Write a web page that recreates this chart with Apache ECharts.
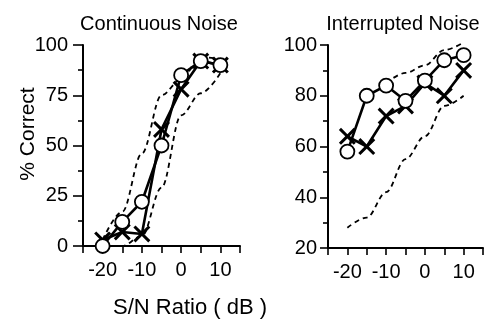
<!DOCTYPE html>
<html>
<head>
<meta charset="utf-8">
<script src="https://cdn.jsdelivr.net/npm/echarts@6/dist/echarts.min.js"></script>
<style>
  html, body { margin: 0; padding: 0; background: #fff; }
  #chart { width: 500px; height: 333px; }
</style>
</head>
<body>
<div id="chart"></div>
<script>
// Signal-to-noise ratios (dB) at which scores were measured
const snr = [-20, -15, -10, -5, 0, 5, 10];

// Continuous noise: percent correct
const contCircles = [0, 12, 22, 50, 85, 92, 90];
const contCrosses = [3, 7, 6, 58, 78, 92, 90];
const contUpper = [3, 17, 46, 75, 83, 94, 93];
const contLower = [0, 0, 5, 29, 65, 76, 86];

// Interrupted noise: percent correct
const intCircles = [58, 80, 84, 78, 86, 94, 96];
const intCrosses = [64, 60, 72, 76, 85, 80, 90];
const intUpperSnr = [-10, -5, 0, 5, 10];
const intUpper = [85, 89, 92, 98, 101];
const intLower = [28, 32, 42, 55, 64, 76, 80];

// Axis tick labels
const xTickLabels = ['-20', '-10', '0', '10'];
const contYTicks = [0, 25, 50, 75, 100];
const intYTicks = [20, 40, 60, 80, 100];

const FONT = 'Liberation Sans, Arial, sans-serif';
const pairs = (xs, ys) => xs.map((x, i) => [x, ys[i]]);

const crossPath = 'path://M2,0L8,6L14,0L16,2L10,8L16,14L14,16L8,10L2,16L0,14L6,8L0,2Z';

function xAxisFor(gridIndex) {
  return {
    type: 'value', gridIndex, min: -25, max: 15, interval: 5,
    axisLine: { show: true, onZero: false, lineStyle: { color: '#000', width: 2 } },
    axisTick: { show: true, length: 7, lineStyle: { color: '#000', width: 1.6 } },
    splitLine: { show: false },
    axisLabel: {
      color: '#000', fontFamily: FONT, fontSize: 20, margin: 14,
      formatter: v => xTickLabels.includes(String(v)) ? String(v) : ''
    }
  };
}

function yAxisFor(gridIndex, ticks, tickLen, labelMargin) {
  return {
    type: 'value', gridIndex,
    min: ticks[0], max: ticks[ticks.length - 1], interval: ticks[1] - ticks[0],
    axisLine: { show: true, onZero: false, lineStyle: { color: '#000', width: 2 } },
    axisTick: { show: true, length: tickLen, lineStyle: { color: '#000', width: 1.6 } },
    minorTick: { show: true, splitNumber: 2, length: 5, lineStyle: { color: '#000', width: 1.6 } },
    splitLine: { show: false },
    minorSplitLine: { show: false },
    axisLabel: { color: '#000', fontFamily: FONT, fontSize: 20, margin: labelMargin }
  };
}

function dashed(idx, data) {
  return {
    type: 'line', xAxisIndex: idx, yAxisIndex: idx, data,
    symbol: 'none', smooth: 0.35, smoothMonotone: 'x', clip: false,
    lineStyle: { color: '#000', width: 1.8, type: [5, 4] }, z: 1
  };
}

function crosses(idx, data) {
  return {
    type: 'line', xAxisIndex: idx, yAxisIndex: idx, data,
    symbol: crossPath, symbolSize: 17, showAllSymbol: true, clip: false,
    lineStyle: { color: '#000', width: 2.6 },
    itemStyle: { color: '#000', borderWidth: 0 }, z: 2
  };
}

function circles(idx, data) {
  return {
    type: 'line', xAxisIndex: idx, yAxisIndex: idx, data,
    symbol: 'circle', symbolSize: 14, showAllSymbol: true, clip: false,
    lineStyle: { color: '#000', width: 2.6 },
    itemStyle: { color: '#fff', borderColor: '#000', borderWidth: 1.8 }, z: 3
  };
}

const chart = echarts.init(document.getElementById('chart'), null, { renderer: 'canvas' });
chart.setOption({
  animation: false,
  backgroundColor: '#fff',
  grid: [
    { left: 83, top: 45, width: 157, height: 201 },
    { left: 328, top: 45, width: 155, height: 203 }
  ],
  xAxis: [xAxisFor(0), xAxisFor(1)],
  yAxis: [yAxisFor(0, contYTicks, 10, 15), yAxisFor(1, intYTicks, 8, 11)],
  series: [
    dashed(0, pairs(snr, contUpper)),
    dashed(0, pairs(snr, contLower)),
    crosses(0, pairs(snr, contCrosses)),
    circles(0, pairs(snr, contCircles)),
    dashed(1, pairs(intUpperSnr, intUpper)),
    dashed(1, pairs(snr, intLower)),
    crosses(1, pairs(snr, intCrosses)),
    circles(1, pairs(snr, intCircles))
  ],
  graphic: [
    { type: 'text', x: 159, y: 24, style: { text: 'Continuous Noise', font: '20px ' + FONT, fill: '#000', align: 'center', verticalAlign: 'middle' } },
    { type: 'text', x: 403, y: 24, style: { text: 'Interrupted Noise', font: '20px ' + FONT, fill: '#000', align: 'center', verticalAlign: 'middle' } },
    { type: 'text', x: 28, y: 134, rotation: Math.PI / 2, style: { text: '% Correct', font: '21px ' + FONT, fill: '#000', align: 'center', verticalAlign: 'middle' } },
    { type: 'text', x: 190, y: 308, style: { text: 'S/N Ratio ( dB )', font: '22px ' + FONT, fill: '#000', align: 'center', verticalAlign: 'middle' } }
  ]
});
</script>
</body>
</html>
